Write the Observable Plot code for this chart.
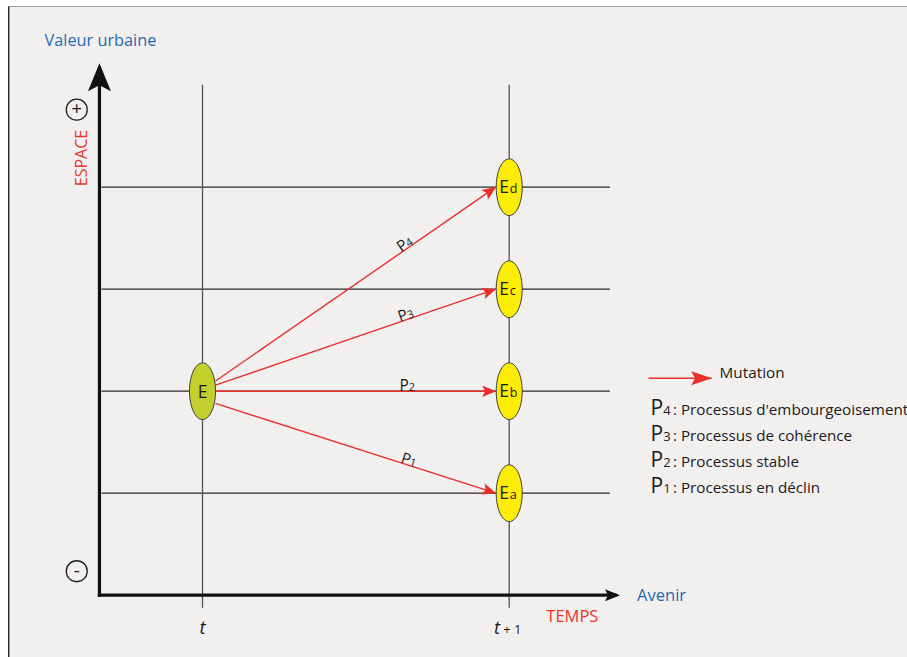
<!DOCTYPE html>
<html>
<head>
<meta charset="utf-8">
<script src="https://cdn.jsdelivr.net/npm/d3@7"></script>
<script src="https://cdn.jsdelivr.net/npm/@observablehq/plot@0.6"></script>
<style>
  html, body { margin: 0; padding: 0; background: #ffffff; }
  #wrap { position: relative; width: 907px; height: 657px; overflow: hidden; }
  #paper { position: absolute; left: 8px; top: 6px; right: 0; bottom: 0; background: #f2f0ef;
           border-top: 1px solid #9c9c9c; border-left: 1.5px solid #262626; box-shadow: inset 1px 0 0 #9c9c9c; }
  #chart { position: absolute; left: 0; top: 0; }
</style>
</head>
<body>
<div id="wrap"><div id="paper"></div><div id="chart"></div></div>
<script>
// ---------------- data ----------------
const times = [0, 1];                       // t, t+1
const timeMain = ["t", "t"];
const timeSuffix = ["", "+ 1"];
const stateLevels = [1, 2, 3, 4];           // Ea, Eb, Ec, Ed
const stateSubs = ["a", "b", "c", "d"];
const originTime = 0;
const originLevel = 2;
const originLabel = "E";
const processNums = ["1", "2", "3", "4"];
const processTargets = [1, 2, 3, 4];        // level reached at t+1
const processDepart = [1.88, 2.00, 2.06, 2.10]; // level where each arrow leaves E
const processDescr = ["Processus en déclin", "Processus stable", "Processus de cohérence", "Processus d'embourgeoisement"];
const legendMutation = "Mutation";
const yTitle = "Valeur urbaine";
const yName = "ESPACE";
const xTitle = "Avenir";
const xName = "TEMPS";
const signLabels = ["+", "-"];
const signLevels = [4.76, 0.235];

// ---------------- style / layout ----------------
const FONT = "'Open Sans', 'Noto Sans', sans-serif";
const INK = "#1c1a1b";
const BLUE = "#1f69b0";
const RED = "#e8362d";
const ARROW = "#e8302a";
const YELLOW = "#fdec06";
const OLIVE = "#c3cf2d";
const ELL_RX = 13, ELL_RATIO = 2.18;

const layout = {
  width: 907, height: 657,
  marginLeft: 202, marginRight: 398.3, marginTop: 186.7, marginBottom: 164.3,
  x: {domain: [0, 1], axis: null},
  y: {domain: [1, 4], axis: null},
  style: {fontFamily: FONT, background: "transparent", overflow: "visible"}
};

// probe pass to read the library's scales
const probe = Plot.plot({...layout, marks: [Plot.ruleX(times), Plot.ruleY(stateLevels)]});
const sx = probe.scale("x"), sy = probe.scale("y");
const X = d3.scaleLinear(sx.domain, sx.range);
const Y = d3.scaleLinear(sy.domain, sy.range);

// ---------------- markers ----------------
function head(len, half, notch, tip) {
  return (color) => {
    const m = d3.create("svg:marker")
      .attr("markerUnits", "userSpaceOnUse")
      .attr("orient", "auto")
      .attr("markerWidth", 1).attr("markerHeight", 1)
      .attr("refX", 0).attr("refY", 0)
      .attr("overflow", "visible")
      .style("overflow", "visible");
    m.append("path")
      .attr("d", `M${tip},0L${tip - len},${-half}L${tip - len + notch},0L${tip - len},${half}Z`)
      .attr("fill", color).attr("stroke", "none");
    return m.node();
  };
}
let markerOK = true;
try { Plot.link([0], {x1: 0, x2: 1, y1: 0, y2: 1, markerEnd: head(1, 1, 0, 0)}); } catch (e) { markerOK = false; }
const mk = (f) => markerOK ? f : "arrow";

// ellipse symbol
const ellipse = {
  draw(ctx, size) {
    const rx = Math.sqrt(size / Math.PI), ry = rx * ELL_RATIO, k = 0.5523;
    ctx.moveTo(rx, 0);
    ctx.bezierCurveTo(rx, ry * k, rx * k, ry, 0, ry);
    ctx.bezierCurveTo(-rx * k, ry, -rx, ry * k, -rx, 0);
    ctx.bezierCurveTo(-rx, -ry * k, -rx * k, -ry, 0, -ry);
    ctx.bezierCurveTo(rx * k, -ry, rx, -ry * k, rx, 0);
    ctx.closePath();
  }
};

// ---------------- derived geometry ----------------
const arrows = processTargets.map((to, i) => {
  const x1 = X.invert(X(originTime) + ELL_RX);
  const x2 = X.invert(X(1) - ELL_RX - 0.5);
  const y1 = processDepart[i], y2 = to;
  const ang = Math.atan2(Y(y2) - Y(y1), X(x2) - X(x1)) * 180 / Math.PI;
  const f = 0.69;
  return {x1, y1, x2, y2, ang, lx: x1 + f * (x2 - x1), ly: y1 + f * (y2 - y1), num: processNums[i]};
});

const axisX = -0.336, axisY = 0;
const yTipLevel = 5.165, xTipTime = 1.345;

const legendRows = [3, 2, 1, 0].map((p, row) => ({num: processNums[p], text: ": " + processDescr[p], row}));
const rowY = (r) => 1.762 - r.row * 0.2535;

const chart = Plot.plot({
  ...layout,
  marks: [
    // grid of states
    Plot.ruleY(stateLevels, {y: d => d, x1: -0.328, x2: 1.33, stroke: "#2b2b2b", strokeWidth: 1.2}),
    Plot.ruleX(times, {x: d => d, y1: -0.127, y2: 5, stroke: "#555", strokeWidth: 1.3}),
    // axes with arrowheads
    Plot.link([0], {x1: axisX, y1: axisY, x2: axisX, y2: yTipLevel, stroke: "#111", strokeWidth: 3.2,
      strokeLinecap: "square", markerEnd: mk(head(28, 11.5, 6, 5))}),
    Plot.link([0], {x1: axisX, y1: axisY, x2: xTipTime, y2: axisY, stroke: "#111", strokeWidth: 3.2,
      strokeLinecap: "square", markerEnd: mk(head(15, 6, 3, 5))}),
    // mutation arrows
    Plot.link(arrows, {x1: "x1", y1: "y1", x2: "x2", y2: "y2", stroke: ARROW, strokeWidth: 1.4,
      markerEnd: mk(head(14, 5.8, 3, 0.5))}),
    // ellipses
    Plot.dot([originLevel], {x: originTime, y: d => d, r: ELL_RX, symbol: ellipse, fill: OLIVE, stroke: "#3c3c3c", strokeWidth: 1}),
    Plot.dot(stateLevels, {x: 1, y: d => d, r: ELL_RX, symbol: ellipse, fill: YELLOW, stroke: "#3c3c3c", strokeWidth: 1}),
    Plot.text([originLabel], {x: originTime, y: originLevel, text: d => d, fontSize: 17.5, fill: INK, textAnchor: "middle", lineAnchor: "bottom", dy: 6.5}),
    Plot.text(stateLevels, {x: 1, y: d => d, text: () => "E", fontSize: 17.5, fill: INK, textAnchor: "end", lineAnchor: "bottom", dx: -0.3, dy: 5.5}),
    Plot.text(stateLevels, {x: 1, y: d => d, text: (d, i) => stateSubs[i], fontSize: 12.5, fill: INK, textAnchor: "start", lineAnchor: "bottom", dx: 0.5, dy: 5.5}),
    // process labels along arrows
    Plot.text(arrows, {x: "lx", y: "ly", rotate: "ang", text: () => "P", fontSize: 15.5, fill: INK, textAnchor: "end", lineAnchor: "bottom"}),
    Plot.text(arrows, {x: "lx", y: "ly", rotate: "ang", text: "num", fontSize: 11, fill: INK, textAnchor: "start", lineAnchor: "bottom"}),
    // axis annotations
    Plot.text([yTitle], {x: -0.515, y: 5.389, text: d => d, fontSize: 16.3, fill: BLUE, textAnchor: "start", lineAnchor: "bottom"}),
    Plot.text([yName], {x: -0.378, y: 4.286, text: d => d, fontSize: 16, fill: RED, rotate: -90, textAnchor: "middle", lineAnchor: "bottom"}),
    Plot.text([xTitle], {x: 1.417, y: -0.052, text: d => d, fontSize: 16.5, fill: BLUE, textAnchor: "start", lineAnchor: "bottom"}),
    Plot.text([xName], {x: 1.121, y: -0.258, text: d => d, fontSize: 16.5, fill: RED, textAnchor: "start", lineAnchor: "bottom"}),
    Plot.dot(signLevels, {x: -0.41, y: d => d, r: 10.5, fill: "none", stroke: "#222", strokeWidth: 1.3}),
    Plot.text(signLevels, {x: -0.41, y: d => d, text: (d, i) => signLabels[i], fontSize: 19, fill: INK, textAnchor: "middle", lineAnchor: "middle", dy: -0.5}),
    // time labels
    Plot.text(times.filter((t, i) => !timeSuffix[i]), {x: d => d, y: -0.385, text: d => timeMain[times.indexOf(d)], fontSize: 18.5, fontStyle: "italic", fill: INK, textAnchor: "middle", lineAnchor: "bottom"}),
    Plot.text(times.filter((t, i) => timeSuffix[i]), {x: d => d, y: -0.385, text: d => timeMain[times.indexOf(d)], fontSize: 18.5, fontStyle: "italic", fill: INK, textAnchor: "end", lineAnchor: "bottom", dx: -9}),
    Plot.text(times.filter((t, i) => timeSuffix[i]), {x: d => d, y: -0.385, text: d => timeSuffix[times.indexOf(d)], fontSize: 13, fill: INK, textAnchor: "start", lineAnchor: "bottom", dx: -6}),
    // legend
    Plot.link([0], {x1: 1.454, x2: 1.66, y1: 2.127, y2: 2.127, stroke: ARROW, strokeWidth: 1.5, markerEnd: mk(head(21, 7, 4, 0.5))}),
    Plot.text([legendMutation], {x: 1.686, y: 2.125, text: d => d, fontSize: 15.3, fill: INK, textAnchor: "start", lineAnchor: "bottom"}),
    Plot.text(legendRows, {x: 1.502, y: rowY, text: () => "P", fontSize: 21, fill: INK, textAnchor: "end", lineAnchor: "bottom"}),
    Plot.text(legendRows, {x: 1.502, y: rowY, text: "num", fontSize: 13, fill: INK, textAnchor: "start", lineAnchor: "bottom"}),
    Plot.text(legendRows, {x: 1.534, y: rowY, text: "text", fontSize: 15.2, fill: INK, textAnchor: "start", lineAnchor: "bottom"})
  ]
});
document.getElementById("chart").appendChild(chart);
</script>
</body>
</html>
